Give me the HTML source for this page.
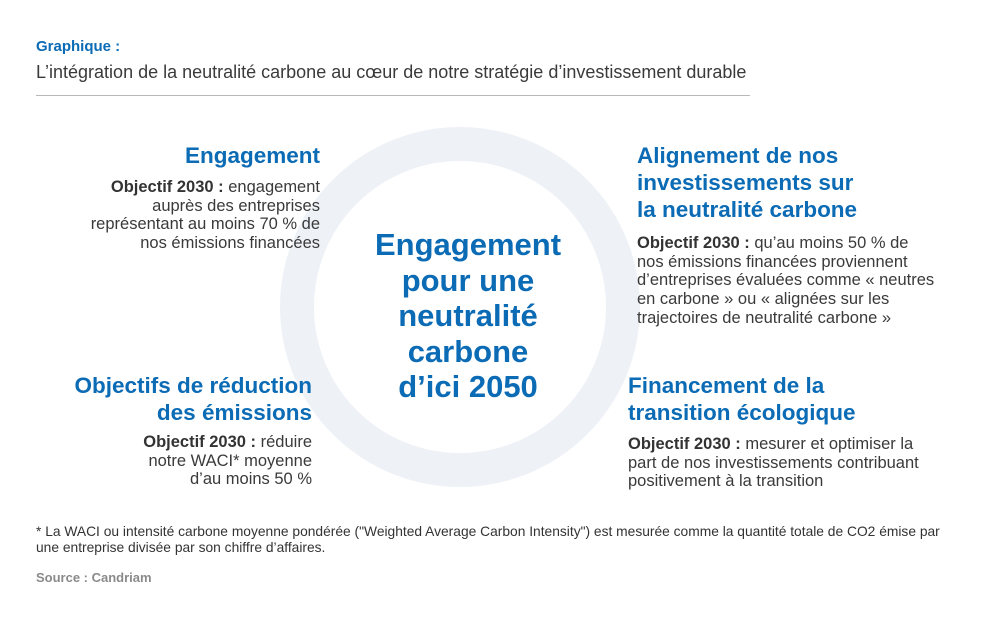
<!DOCTYPE html>
<html><head><meta charset="utf-8"><style>
body{margin:0;width:992px;height:620px;background:#fff;position:relative;overflow:hidden;font-family:"Liberation Sans",sans-serif;color:#3a3a3a}
.a{position:absolute;white-space:nowrap}
.h{color:#0b6bb5;font-weight:bold;font-size:22.5px;line-height:27px}
.t{font-size:16.5px;line-height:18.7px}
.r{text-align:right}
b{color:#333}
</style></head><body>
<div class="a" style="left:36px;top:38px;color:#0b6bb5;font-weight:bold;font-size:15px">Graphique :</div>
<div class="a" style="left:36px;top:62px;font-size:18px">L’intégration de la neutralité carbone au cœur de notre stratégie d’investissement durable</div>
<div class="a" style="left:36px;top:95px;width:714px;height:1px;background:#b8b8b8"></div>
<svg class="a" style="left:0;top:0" width="992" height="620"><circle cx="460" cy="307" r="163" fill="none" stroke="#eef2f7" stroke-width="34"/></svg>
<div class="a h" style="left:318px;top:227px;width:300px;text-align:center;font-size:31px;line-height:35.5px">Engagement<br>pour une<br>neutralité<br>carbone<br>d’ici 2050</div>
<div class="a h r" style="right:672px;top:142px">Engagement</div>
<div class="a t r" style="right:672px;top:178px"><b>Objectif 2030 :</b> engagement<br>auprès des entreprises<br>représentant au moins 70 % de<br>nos émissions financées</div>
<div class="a h" style="left:637px;top:142px">Alignement de nos<br>investissements sur<br>la neutralité carbone</div>
<div class="a t" style="left:637px;top:234px"><b>Objectif 2030 :</b> qu’au moins 50 % de<br>nos émissions financées proviennent<br>d’entreprises évaluées comme « neutres<br>en carbone » ou « alignées sur les<br>trajectoires de neutralité carbone »</div>
<div class="a h r" style="right:680px;top:372px">Objectifs de réduction<br>des émissions</div>
<div class="a t r" style="right:680px;top:433px"><b>Objectif 2030 :</b> réduire<br>notre WACI* moyenne<br>d’au moins 50 %</div>
<div class="a h" style="left:628px;top:372px">Financement de la<br>transition écologique</div>
<div class="a t" style="left:628px;top:435px"><b>Objectif 2030 :</b> mesurer et optimiser la<br>part de nos investissements contribuant<br>positivement à la transition</div>
<div class="a" style="left:36px;top:524px;font-size:13.8px;line-height:16px;color:#333">* La WACI ou intensité carbone moyenne pondérée ("Weighted Average Carbon Intensity") est mesurée comme la quantité totale de CO2 émise par<br>une entreprise divisée par son chiffre d’affaires.</div>
<div class="a" style="left:36px;top:570px;font-size:13px;font-weight:bold;color:#8a8a8a">Source : Candriam</div>
</body></html>
